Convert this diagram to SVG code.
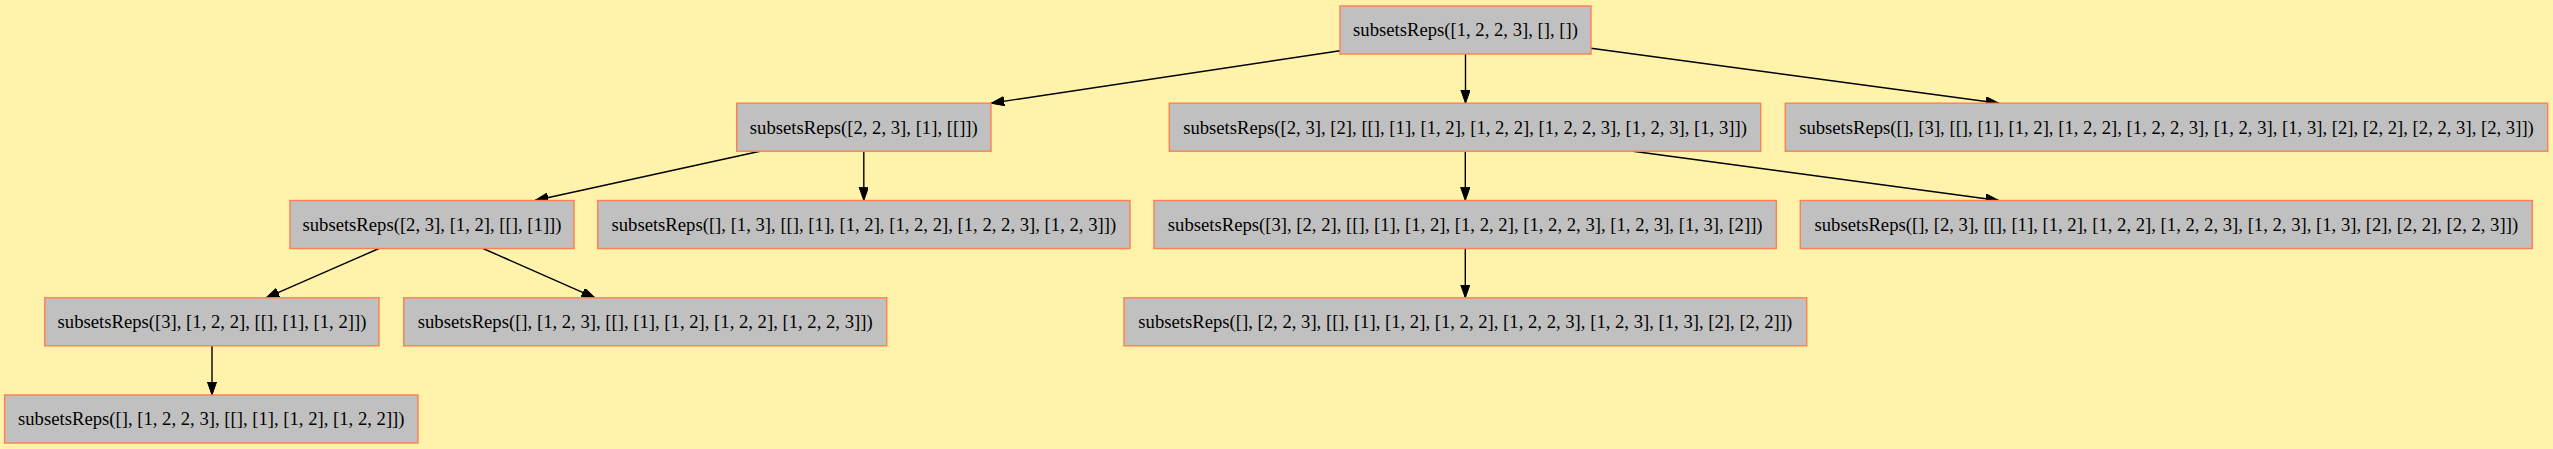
<svg xmlns="http://www.w3.org/2000/svg" width="2553" height="449" viewBox="0 0 2553 449">
<defs>
<style>
.n rect { fill: #c0c0c0; stroke: #ff7f50; stroke-width: 1.4; }
.n text { font-family: "Liberation Serif", "Times New Roman", serif; font-size: 18.67px; fill: #000; text-anchor: middle; }
.e line { stroke: #000; stroke-width: 1.4; marker-end: url(#arr); }
</style>
<marker id="arr" markerUnits="userSpaceOnUse" markerWidth="14" markerHeight="10" refX="13.3" refY="4.67" orient="auto">
<path d="M0,0 L13.3,4.67 L0,9.33 z" fill="#000" stroke="#000" stroke-width="1"/>
</marker>
</defs>
<rect x="0" y="0" width="2553" height="449" fill="#fff2ab"/>
<g id="edges" class="e">
<line x1="1340" y1="50.7" x2="991" y2="103.2"/>
<line x1="1465.5" y1="54" x2="1465.5" y2="103.2"/>
<line x1="1591" y1="48.3" x2="1999" y2="103.2"/>
<line x1="760" y1="151.2" x2="535" y2="200.5"/>
<line x1="863.8" y1="151.2" x2="863.8" y2="200.5"/>
<line x1="1465.3" y1="151.2" x2="1465.3" y2="200.5"/>
<line x1="1633" y1="151.2" x2="1999" y2="200.5"/>
<line x1="379" y1="248.5" x2="266" y2="297.8"/>
<line x1="483" y1="248.5" x2="595" y2="297.8"/>
<line x1="212" y1="345.8" x2="212" y2="395"/>
<line x1="1465.3" y1="248.5" x2="1465.3" y2="297.8"/>
</g>
<g id="n0" class="n"><rect x="1340" y="6" width="251" height="48"/><text x="1465.5" y="36.3">subsetsReps([1, 2, 2, 3], [], [])</text></g>
<g id="nA" class="n"><rect x="736.7" y="103.2" width="254.3" height="48"/><text x="863.8" y="133.5">subsetsReps([2, 2, 3], [1], [[]])</text></g>
<g id="nB" class="n"><rect x="1169.3" y="103.2" width="591.4" height="48"/><text x="1465" y="133.5">subsetsReps([2, 3], [2], [[], [1], [1, 2], [1, 2, 2], [1, 2, 2, 3], [1, 2, 3], [1, 3]])</text></g>
<g id="nC" class="n"><rect x="1785.3" y="103.2" width="762.4" height="48"/><text x="2166.5" y="133.5">subsetsReps([], [3], [[], [1], [1, 2], [1, 2, 2], [1, 2, 2, 3], [1, 2, 3], [1, 3], [2], [2, 2], [2, 2, 3], [2, 3]])</text></g>
<g id="nD" class="n"><rect x="290" y="200.5" width="284" height="48"/><text x="432" y="230.8">subsetsReps([2, 3], [1, 2], [[], [1]])</text></g>
<g id="nE" class="n"><rect x="597.7" y="200.5" width="532.3" height="48"/><text x="863.8" y="230.8">subsetsReps([], [1, 3], [[], [1], [1, 2], [1, 2, 2], [1, 2, 2, 3], [1, 2, 3]])</text></g>
<g id="nF" class="n"><rect x="1154" y="200.5" width="622.3" height="48"/><text x="1465.2" y="230.8">subsetsReps([3], [2, 2], [[], [1], [1, 2], [1, 2, 2], [1, 2, 2, 3], [1, 2, 3], [1, 3], [2]])</text></g>
<g id="nG" class="n"><rect x="1800.3" y="200.5" width="732" height="48"/><text x="2166.3" y="230.8">subsetsReps([], [2, 3], [[], [1], [1, 2], [1, 2, 2], [1, 2, 2, 3], [1, 2, 3], [1, 3], [2], [2, 2], [2, 2, 3]])</text></g>
<g id="nH" class="n"><rect x="44.8" y="297.8" width="334.2" height="48"/><text x="212" y="328.1">subsetsReps([3], [1, 2, 2], [[], [1], [1, 2]])</text></g>
<g id="nI" class="n"><rect x="403.7" y="297.8" width="483" height="48"/><text x="645.2" y="328.1">subsetsReps([], [1, 2, 3], [[], [1], [1, 2], [1, 2, 2], [1, 2, 2, 3]])</text></g>
<g id="nJ" class="n"><rect x="1124" y="297.8" width="682.7" height="48"/><text x="1465.3" y="328.1">subsetsReps([], [2, 2, 3], [[], [1], [1, 2], [1, 2, 2], [1, 2, 2, 3], [1, 2, 3], [1, 3], [2], [2, 2]])</text></g>
<g id="nK" class="n"><rect x="4.6" y="395" width="413.4" height="48"/><text x="211.3" y="425.3">subsetsReps([], [1, 2, 2, 3], [[], [1], [1, 2], [1, 2, 2]])</text></g>
</svg>
